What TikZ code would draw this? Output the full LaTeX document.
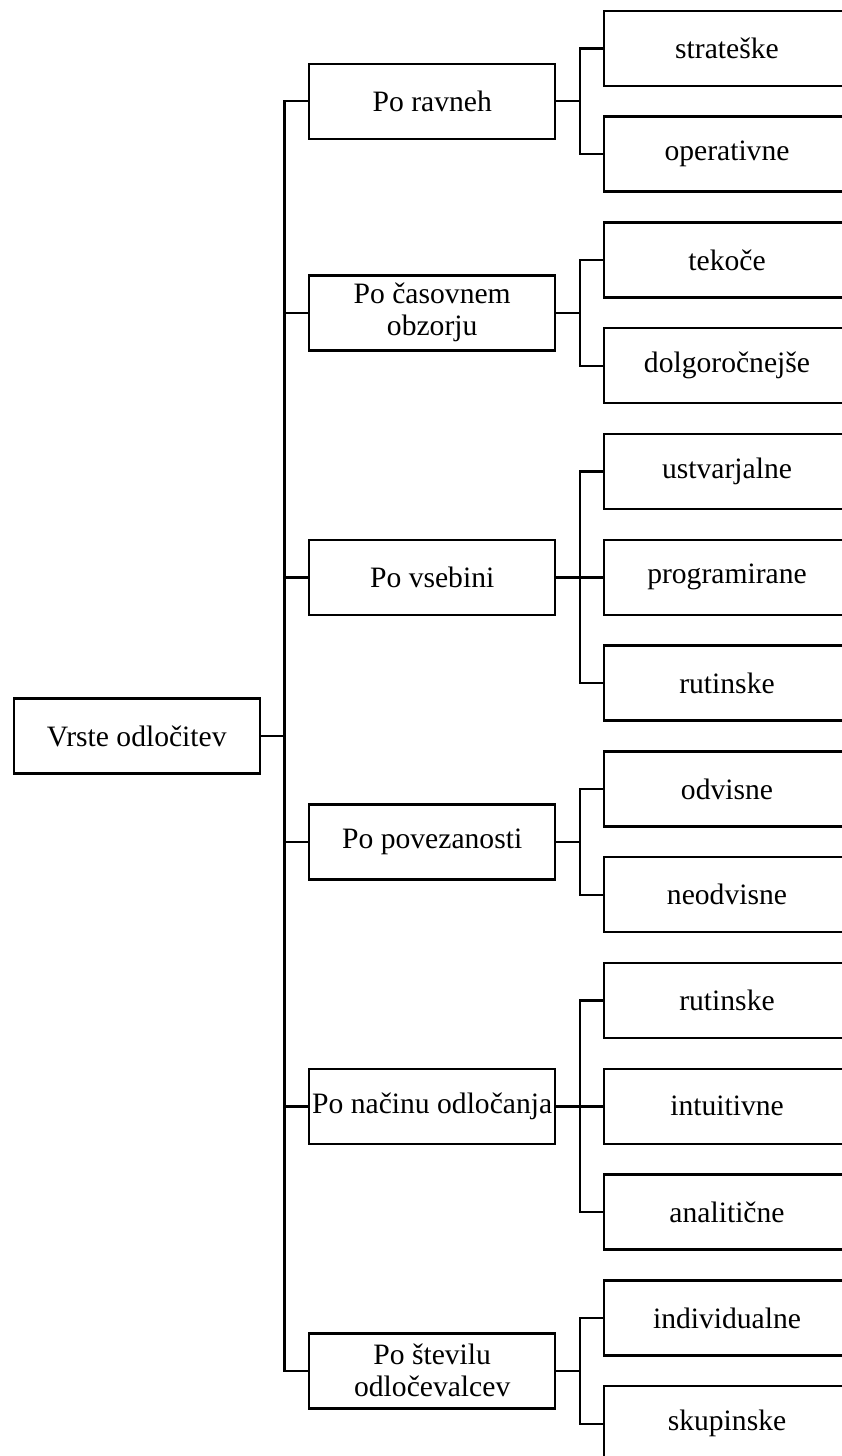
\documentclass[tikz,border=0pt]{standalone}
\usepackage{fontspec}
\setmainfont{Liberation Serif}
\begin{document}
\begin{tikzpicture}[x=0.75pt,y=-0.75pt,
  box/.style={draw, line width=1.8pt, rectangle, minimum width=246*0.75pt, minimum height=75*0.75pt, inner sep=1pt, align=center, font=\fontsize{22.2}{24}\selectfont},
  conn/.style={line width=1.8pt, line join=miter}]
\useasboundingbox (0,0) rectangle (842,1456);
% root
\node[box] (root) at (136.7,736) {Vrste odločitev};
% middle level
\node[box] (m1) at (432.2,101.2) {Po ravneh};
\node[box] (m2) at (432.2,312.8) {Po časovnem\\obzorju};
\node[box] (m3) at (432.2,577.3) {Po vsebini};
\node[box] (m4) at (432.2,841.8) {Po povezanosti};
\node[box] (m5) at (432.2,1106.3) {Po načinu odločanja};
\node[box] (m6) at (432.2,1370.8) {Po številu\\odločevalcev};
% leaves
\node[box] (c0) at (727,48.3) {strateške};
\node[box] (c1) at (727,154.1) {operativne};
\node[box] (c2) at (727,259.9) {tekoče};
\node[box] (c3) at (727,365.7) {dolgoročnejše};
\node[box] (c4) at (727,471.5) {ustvarjalne};
\node[box] (c5) at (727,577.3) {programirane};
\node[box] (c6) at (727,683.1) {rutinske};
\node[box] (c7) at (727,788.9) {odvisne};
\node[box] (c8) at (727,894.7) {neodvisne};
\node[box] (c9) at (727,1000.5) {rutinske};
\node[box] (c10) at (727,1106.3) {intuitivne};
\node[box] (c11) at (727,1212.1) {analitične};
\node[box] (c12) at (727,1317.9) {individualne};
\node[box] (c13) at (727,1423.7) {skupinske};
% bus positions
\coordinate (T) at (284.5,0);
\coordinate (J) at (580,0);
% trunk
\draw[conn] (root.east) -- (root.east -| T);
\draw[conn] (m1.west) -- (m1.west -| T) -- (m6.west -| T) -- (m6.west);
\foreach \m in {m2,m3,m4,m5} \draw[conn] (\m.west) -- (\m.west -| T);
% middle to leaves
\foreach \m/\a/\b in {m1/c0/c1, m2/c2/c3, m3/c4/c6, m4/c7/c8, m5/c9/c11, m6/c12/c13} {
  \draw[conn] (\m.east) -- (\m.east -| J);
  \draw[conn] (\a.west) -- (\a.west -| J) -- (\b.west -| J) -- (\b.west);
}
\draw[conn] (c5.west) -- (c5.west -| J);
\draw[conn] (c10.west) -- (c10.west -| J);
\end{tikzpicture}
\end{document}
